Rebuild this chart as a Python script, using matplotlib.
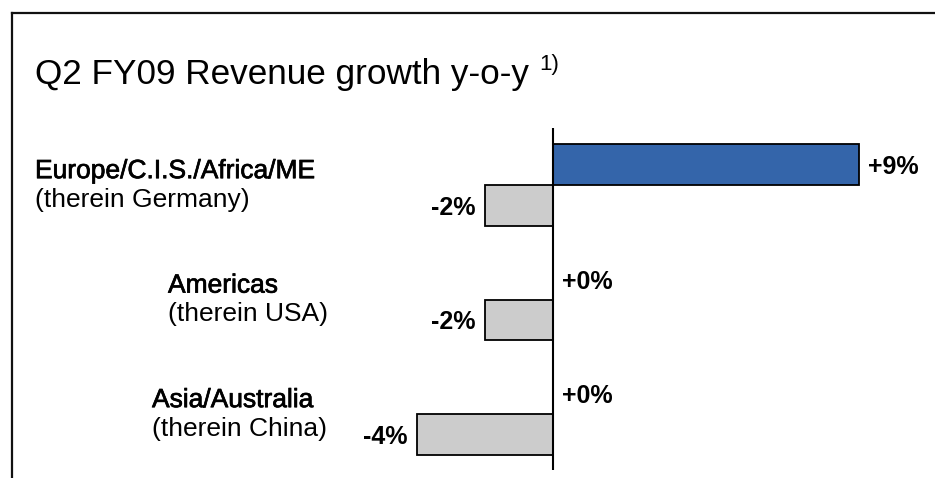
import numpy as np
import matplotlib.pyplot as plt
from matplotlib.lines import Line2D
import matplotlib.transforms as mtransforms
import matplotlib.patheffects as pe

plt.rcParams['font.family'] = ['Liberation Sans', 'DejaVu Sans']

# data
regions = ["Europe/C.I.S./Africa/ME", "Americas", "Asia/Australia"]
countries = ["(therein Germany)", "(therein USA)", "(therein China)"]
region_growth = [9, 0, 0]
country_growth = [-2, -2, -4]
title = "Q2 FY09 Revenue growth y-o-y"
footnote = "1)"

# layout
label_x = [35 / 935, 168 / 935, 152 / 935]
bar_h = 0.354
blue = "#3465AA"
grey = "#CCCCCC"

fig = plt.figure(figsize=(9.35, 4.78), dpi=100)
ax = fig.add_axes([0, 1 - 470 / 478, 1, 342 / 478])
ax.set_xlim(-553 / 34, 382 / 34)
ax.set_ylim(2.489, -0.498)
ax.axis("off")

pos = np.arange(len(regions))
ax.barh(pos - bar_h / 2, region_growth, height=bar_h, color=blue,
        edgecolor="black", linewidth=1.3)
ax.barh(pos + bar_h / 2, country_growth, height=bar_h, color=grey,
        edgecolor="black", linewidth=1.3)
ax.axvline(0, color="black", linewidth=1.5)

gap = 0.27
def value_label(x, y):
    s = "%+d%%" % x
    if x < 0:
        ax.text(x - gap, y + 0.02, s, ha="right", va="center", fontsize=18,
                fontweight="bold")
    else:
        ax.text(x + gap, y + 0.02, s, ha="left", va="center", fontsize=18,
                fontweight="bold")

for i in range(len(regions)):
    value_label(region_growth[i], pos[i] - bar_h / 2)
    value_label(country_growth[i], pos[i] + bar_h / 2)

# category labels (x in axes fraction, y in data)
trans = mtransforms.blended_transform_factory(ax.transAxes, ax.transData)
heavy = [pe.withStroke(linewidth=0.5, foreground="black")]
for i in range(len(regions)):
    ax.text(label_x[i], pos[i] - 0.06, regions[i], transform=trans,
            ha="left", va="baseline", fontsize=19, path_effects=heavy)
    ax.text(label_x[i], pos[i] + 0.19, countries[i], transform=trans,
            ha="left", va="baseline", fontsize=19)

# title
fig.text(35 / 935, 1 - 84 / 478, title, ha="left", va="baseline", fontsize=25.3)
fig.text(539 / 935, 1 - 70 / 478, footnote, ha="left", va="baseline", fontsize=16)

# frame
top = 1 - 13 / 478
fig.add_artist(Line2D([11.5 / 935, 1], [top, top], color="#111111", linewidth=1.6))
fig.add_artist(Line2D([11.5 / 935, 11.5 / 935], [0, top], color="#111111", linewidth=1.6))

fig.savefig("out.png", dpi=100)
